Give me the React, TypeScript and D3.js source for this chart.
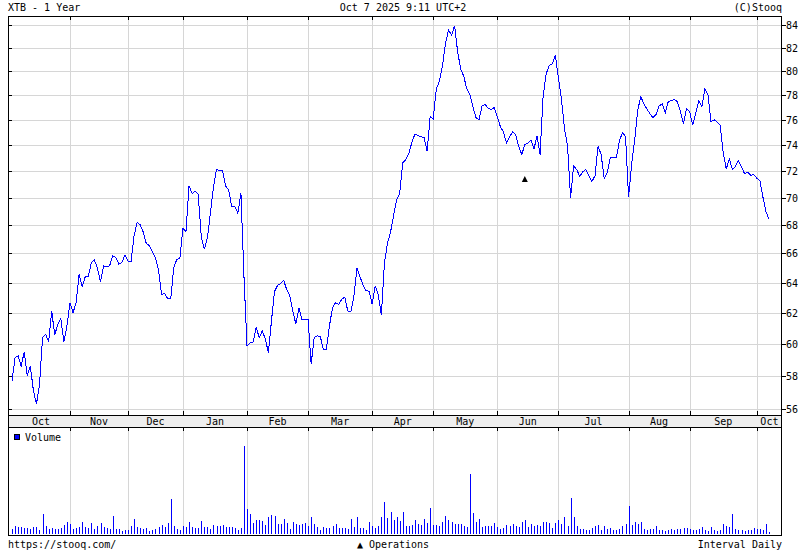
import React from "react";
import * as d3 from "d3";

const title = "XTB - 1 Year";
const stamp = "Oct 7 2025 9:11 UTC+2";
const copyright = "(C)Stooq";
const footerLeft = "https://stooq.com/";
const footerMid = "▲ Operations";
const footerRight = "Interval Daily";

// daily closes (trading days, Oct 7 2024 .. Oct 7 2025)
const closes = [
  57.67, 59.13, 59.23, 58.6, 59.48, 58.02, 58.6, 57.12, 56.29, 57.41,
  60.39, 60.6, 60.11, 62.11, 60.54, 61.25, 61.61, 60.11, 61.14, 62.65,
  62.0, 62.65, 64.57, 63.72, 64.39, 64.39, 65.38, 65.54, 64.97, 64.05,
  65.13, 65.08, 65.15, 65.84, 65.72, 65.26, 65.36, 65.89, 65.47, 65.43,
  67.24, 68.19, 68.02, 67.5, 66.69, 66.55, 66.14, 65.7, 64.85, 63.18,
  63.29, 62.92, 62.9, 65.03, 65.59, 65.66, 67.76, 67.55, 70.87, 70.31,
  70.46, 70.26, 67.19, 66.29, 67.07, 68.86, 70.82, 72.1, 72.05, 72.03,
  70.87, 70.56, 69.33, 69.33, 68.86, 70.36, 64.39, 59.85, 60.06, 60.11,
  61.03, 60.39, 60.82, 60.28, 59.44, 61.46, 63.4, 63.81, 63.94, 64.16,
  63.51, 63.12, 62.11, 61.25, 62.32, 61.53, 61.53, 61.57, 58.71, 60.39,
  60.5, 60.45, 59.65, 59.65, 61.14, 62.32, 62.65, 62.54, 62.86, 63.03,
  62.11, 62.06, 63.08, 64.97, 64.39, 63.83, 63.46, 63.4, 62.54, 63.76,
  63.18, 61.83, 65.31, 66.71, 67.48, 68.67, 69.81, 70.31, 72.62, 72.87,
  73.33, 74.21, 74.87, 74.74, 74.64, 74.61, 73.51, 76.28, 76.08, 78.5,
  79.14, 80.39, 82.36, 83.55, 83.1, 83.94, 81.64, 80.19, 79.56, 78.53,
  78.03, 77.06, 76.17, 76.0, 77.11, 77.25, 76.92, 76.83, 77.0, 76.22,
  75.44, 75.03, 74.15, 74.62, 75.05, 74.79, 73.9, 73.26, 74.03, 74.15,
  74.41, 73.69, 74.72, 73.26, 77.89, 79.78, 80.5, 80.64, 81.36, 79.42,
  77.67, 75.31, 73.9, 70.0, 72.41, 72.1, 71.59, 71.95, 72.1, 71.64,
  71.21, 71.64, 73.9, 73.26, 71.46, 71.85, 73.0, 73.05, 73.0, 74.33,
  74.97, 74.67, 70.05, 72.49, 74.41, 76.78, 77.89, 77.28, 76.89, 76.47,
  76.17, 76.44, 77.11, 77.28, 76.56, 77.47, 77.56, 77.64, 77.47, 76.64,
  75.69, 76.92, 76.67, 75.56, 76.56, 77.56, 77.06, 78.5, 78.03, 75.87,
  76.0, 75.82, 75.56, 73.38, 72.15, 72.92, 72.1, 72.36, 72.79, 72.31,
  71.79, 71.9, 71.67, 71.74, 71.46, 71.28, 70.05, 68.98, 68.43,
];

// daily volume, thousands of shares
const volumes = [
  50, 80, 70, 70, 60, 60, 50, 70, 70, 40,
  200, 80, 50, 60, 50, 50, 60, 90, 120, 100,
  50, 60, 70, 120, 70, 60, 110, 50, 80, 110,
  70, 60, 50, 180, 50, 50, 30, 40, 40, 80,
  150, 70, 60, 50, 60, 30, 40, 50, 70, 90,
  70, 110, 350, 80, 50, 40, 80, 70, 120, 70,
  60, 60, 130, 70, 70, 50, 90, 80, 80, 90,
  70, 70, 70, 60, 40, 60, 880, 250, 200, 110,
  140, 140, 130, 90, 170, 190, 180, 100, 100, 150,
  110, 50, 120, 100, 90, 100, 110, 80, 170, 100,
  70, 40, 70, 60, 60, 80, 100, 60, 60, 60,
  50, 150, 70, 170, 60, 60, 40, 120, 80, 60,
  80, 170, 320, 160, 220, 140, 170, 133, 220, 80,
  80, 90, 140, 100, 90, 150, 110, 260, 90, 90,
  80, 120, 180, 140, 120, 100, 100, 100, 80, 70,
  600, 210, 120, 150, 70, 80, 80, 80, 110, 70,
  50, 60, 90, 80, 100, 80, 70, 120, 140, 70,
  100, 80, 90, 80, 120, 120, 110, 60, 110, 140,
  100, 170, 80, 360, 170, 80, 50, 50, 40, 40,
  60, 80, 90, 40, 80, 50, 60, 40, 40, 50,
  80, 100, 280, 90, 120, 100, 120, 50, 40, 50,
  50, 80, 40, 40, 30, 40, 50, 40, 50, 50,
  60, 60, 50, 40, 40, 50, 70, 40, 30, 70,
  40, 30, 40, 100, 80, 70, 200, 50, 40, 40,
  30, 40, 40, 60, 50, 50, 40, 100, 20,
];

const monthLabels = ["Oct", "Nov", "Dec", "Jan", "Feb", "Mar", "Apr", "May", "Jun", "Jul", "Aug", "Sep", "Oct"];
// index of first trading day of each new month
const monthStarts = [19, 38, 56, 77, 97, 118, 138, 159, 179, 202, 222, 244];
const priceTicks = [56, 58, 60, 62, 64, 66, 68, 70, 72, 74, 76, 78, 80, 82, 84];
const operationIdx = [168];
const operationLevel = [71.4];

const FONT = "'DejaVu Sans Mono', monospace";
const GRID = "#d6d6d6";
const BLUE = "#0000ff";

export default function App() {
  const L = 8, R = 782, T = 16, PB = 415, BB = 427, VB = 535;
  const x = d3.scaleLinear().domain([0, closes.length - 1]).range([12, 769]);
  const y = d3.scaleLog().domain([56, 84]).range([409, 25]);
  const yv = d3.scaleLinear().domain([0, 1000]).range([534, 434]);
  const line = d3
    .line<number>()
    .x((_, i) => x(i))
    .y((d) => y(d));

  const px = (v: number) => Math.round(v) + 0.5;
  const gridXs = monthStarts.map((i) => px(x(i)));
  const edges = [x(0), ...monthStarts.map((i) => x(i)), R];

  return (
    <svg
      width={800}
      height={550}
      style={{ position: "absolute", left: 0, top: 0, display: "block", background: "#fff" }}
      fontFamily={FONT}
      fontSize={10}
    >
      <rect x={0} y={0} width={800} height={550} fill="#fff" />
      {/* header */}
      <text x={8} y={11} fill="#000">{title}</text>
      <text x={403} y={11} fill="#000" textAnchor="middle">{stamp}</text>
      <text x={R} y={11} fill="#000" textAnchor="end">{copyright}</text>

      {/* price gridlines */}
      <g shapeRendering="crispEdges">
        {priceTicks.map((t) => (
          <line key={"g" + t} x1={L} x2={R} y1={px(y(t))} y2={px(y(t))} stroke={GRID} />
        ))}
        {gridXs.map((gx, k) => (
          <line key={"vx" + k} x1={gx} x2={gx} y1={T} y2={PB} stroke={GRID} />
        ))}
        {gridXs.map((gx, k) => (
          <line key={"vv" + k} x1={gx} x2={gx} y1={BB} y2={VB} stroke={GRID} />
        ))}
        {/* ticks */}
        {priceTicks.map((t) => (
          <g key={"t" + t}>
            <line x1={L} x2={L + 4} y1={px(y(t))} y2={px(y(t))} stroke="#000" />
            <line x1={R} x2={R + 4} y1={px(y(t))} y2={px(y(t))} stroke="#000" />
          </g>
        ))}
        {gridXs.map((gx, k) => (
          <g key={"mt" + k}>
            <line x1={gx} x2={gx} y1={T} y2={T + 4} stroke="#000" />
            <line x1={gx} x2={gx} y1={PB - 4} y2={PB} stroke="#000" />
            <line x1={gx} x2={gx} y1={BB} y2={BB + 4} stroke="#000" />
          </g>
        ))}
        {/* frames */}
        <rect x={L + 0.5} y={T + 0.5} width={R - L - 1} height={PB - T} fill="none" stroke="#000" />
        <rect x={L + 0.5} y={PB + 0.5} width={R - L - 1} height={BB - PB} fill="#eeeeee" stroke="#000" />
        <line x1={L + 0.5} x2={L + 0.5} y1={BB} y2={VB + 1} stroke="#000" />
        <line x1={R - 0.5} x2={R - 0.5} y1={BB} y2={VB + 1} stroke="#000" />
        <line x1={L} x2={R} y1={VB + 0.5} y2={VB + 0.5} stroke="#000" />
      </g>

      {/* month labels */}
      {monthLabels.map((m, k) => (
        <text key={"ml" + k} x={(edges[k] + edges[k + 1]) / 2} y={425} textAnchor="middle" fill="#000">
          {m}
        </text>
      ))}

      {/* price labels */}
      {priceTicks.map((t) => (
        <text key={"pl" + t} x={R + 4} y={y(t) + 4} fill="#000">
          {t}
        </text>
      ))}

      {/* price line */}
      <path d={line(closes) || ""} fill="none" stroke={BLUE} strokeWidth={1} shapeRendering="crispEdges" />

      {/* operations */}
      {operationIdx.map((idx, k) => {
        const cx = x(idx);
        const cy = y(operationLevel[k]);
        return (
          <path
            key={"op" + k}
            d={`M${cx - 3},${cy + 3} L${cx},${cy - 3} L${cx + 3},${cy + 3} Z`}
            fill="#000"
          />
        );
      })}

      {/* volume */}
      <g shapeRendering="crispEdges">
        {volumes.map((v, i) => (
          <rect
            key={"v" + i}
            x={Math.round(x(i))}
            y={yv(v)}
            width={1}
            height={yv(0) - yv(v)}
            fill={BLUE}
          />
        ))}
        <rect x={14.5} y={434.5} width={5} height={5} fill={BLUE} stroke="#000" />
      </g>
      <text x={25} y={441} fill="#000">Volume</text>

      {/* footer */}
      <text x={8} y={548} fill="#000">{footerLeft}</text>
      <text x={393} y={548} fill="#000" textAnchor="middle">{footerMid}</text>
      <text x={R} y={548} fill="#000" textAnchor="end">{footerRight}</text>
    </svg>
  );
}
